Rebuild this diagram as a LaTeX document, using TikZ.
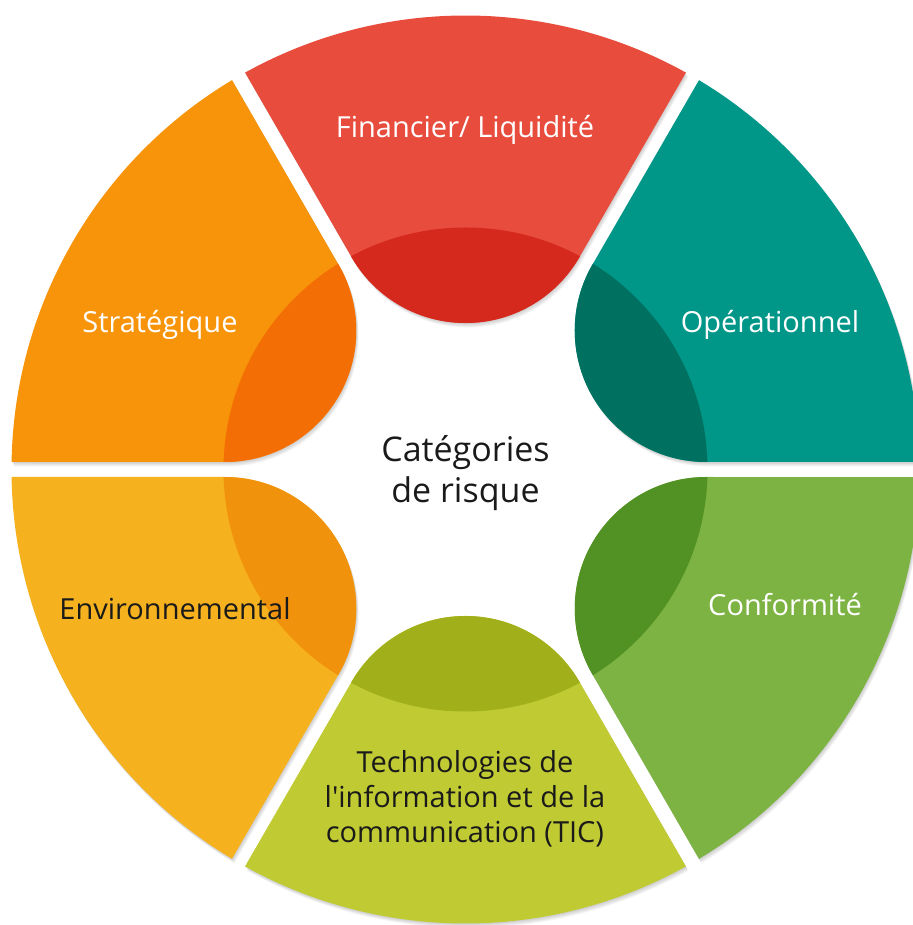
\documentclass[tikz,border=0pt]{standalone}
\usepackage{fontspec}
\setmainfont{Open Sans}
\usepackage{tikz}

\definecolor{finL}{RGB}{232,76,61}
\definecolor{finD}{RGB}{214,41,30}
\definecolor{opeL}{RGB}{0,150,136}
\definecolor{opeD}{RGB}{0,112,96}
\definecolor{conL}{RGB}{124,179,66}
\definecolor{conD}{RGB}{82,145,35}
\definecolor{ticL}{RGB}{192,202,51}
\definecolor{ticD}{RGB}{161,176,26}
\definecolor{envL}{RGB}{246,178,30}
\definecolor{envD}{RGB}{241,146,13}
\definecolor{strL}{RGB}{248,148,9}
\definecolor{strD}{RGB}{244,110,6}
\definecolor{ink}{RGB}{26,26,26}

% one ring segment, centred on angle #1
\newcommand{\riskseg}[1]{([shift={(#1+60:7.5)}]#1-30:240.75) -- ([shift={(#1+60:7.5)}]#1-30:453.94)
  arc[start angle=#1-29.05, end angle=#1+29.05, radius=454pt]
  -- ([shift={(#1-60:7.5)}]#1+30:240.75)
  arc[start angle=#1+120, end angle=#1+240, radius=131.5pt] -- cycle}

\tikzset{
  label/.style={font=\fontsize{29}{35}\selectfont, align=center, text=white},
  darklabel/.style={label, text=ink},
  title/.style={font=\fontsize{34}{41}\selectfont, align=center, text=ink}
}

\begin{document}
\begin{tikzpicture}[x=1pt,y=1pt]
  \useasboundingbox (-465.5,-455.5) rectangle (446.5,469.5);

  % soft shadows first
  \foreach \a in {90,30,-30,-90,-150,150}
    \foreach \s in {1,...,5}
      \fill[black, opacity=0.04, xshift=\s*0.5pt, yshift=-\s*0.9pt] \riskseg{\a};

  \foreach \a/\lite/\dark in {90/finL/finD, 30/opeL/opeD, -30/conL/conD,
                              -90/ticL/ticD, -150/envL/envD, 150/strL/strD}{
    \fill[\lite] \riskseg{\a};
    \begin{scope}
      \clip (\a:278) circle[radius=131.5pt];
      \fill[\dark] (0,0) circle[radius=242pt];
    \end{scope}
  }

  \node[title] (centre) at (0,-4) {Catégories\\de risque};
  \node[label] (fin) at (-0.5,339.5) {Financier/ Liquidité};
  \node[label] (ope) at (304.5,144.5) {Opérationnel};
  \node[label] (con) at (319.5,-135.5) {Conformité};
  \node[darklabel] (tic) at (-0.5,-329.5) {Technologies de\\l\textquotesingle information et de la\\communication (TIC)};
  \node[darklabel] (env) at (-290.5,-139.5) {Environnemental};
  \node[label] (str) at (-305.5,144.5) {Stratégique};
\end{tikzpicture}
\end{document}
